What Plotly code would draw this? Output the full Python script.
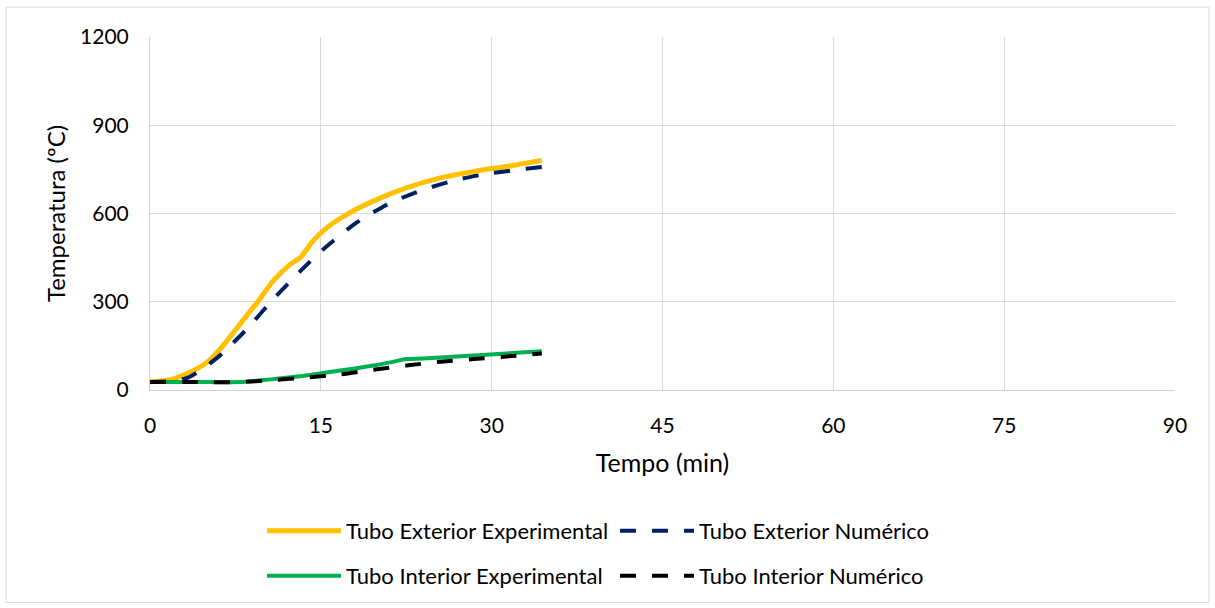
import plotly.graph_objects as go

# Data
t_ext_exp = [0, 2.0, 3.5, 5.0, 6.4, 7.9, 9.4, 10.8, 12.3, 13.2, 14.3, 15.5, 17.3, 19.6, 22.5, 25.5, 28.4, 31.3, 34.4]
T_ext_exp = [27, 37, 60, 94, 150, 224, 297, 370, 427, 450, 506, 551, 597, 642, 687, 721, 743, 760, 780]

t_ext_num = [0, 2.0, 3.2, 4.4, 6.1, 8.5, 10.8, 13.2, 15.2, 18.1, 21.1, 24.0, 27.2, 30.1, 34.4]
T_ext_num = [27, 30, 40, 66, 116, 207, 308, 404, 478, 568, 636, 681, 717, 738, 758]

t_int_exp = [0, 4.0, 7.9, 10.8, 13.7, 16.7, 19.6, 21.1, 22.5, 24.0, 26.9, 29.9, 34.4]
T_int_exp = [27, 27, 27, 37, 49, 66, 83, 94, 105, 107, 114, 121, 132]

t_int_num = [0, 4.0, 7.9, 10.8, 13.7, 16.7, 19.6, 22.5, 25.5, 28.4, 31.3, 34.4]
T_int_num = [27, 27, 27, 34, 42, 53, 69, 83, 96, 105, 114, 124]

x_ticks = [0, 15, 30, 45, 60, 75, 90]
y_ticks = [0, 300, 600, 900, 1200]

FONT = "Lato"

fig = go.Figure()
fig.add_trace(go.Scatter(x=t_ext_exp, y=T_ext_exp, mode="lines", name="Tubo Exterior Experimental",
                         line=dict(color="#FFC000", width=5, shape="spline", smoothing=0.6), legend="legend"))
fig.add_trace(go.Scatter(x=t_ext_num, y=T_ext_num, mode="lines", name="Tubo Exterior Numérico",
                         line=dict(color="#002060", width=4, dash="16px,16px", shape="spline", smoothing=0.6), legend="legend"))
fig.add_trace(go.Scatter(x=t_int_exp, y=T_int_exp, mode="lines", name="Tubo Interior Experimental",
                         line=dict(color="#00B050", width=4, shape="spline", smoothing=0.6), legend="legend2"))
fig.add_trace(go.Scatter(x=t_int_num, y=T_int_num, mode="lines", name="Tubo Interior Numérico",
                         line=dict(color="#000000", width=4, dash="16px,16px", shape="spline", smoothing=0.6), legend="legend2"))

W, H = 1215, 608
L, R, T, B = 150, 40, 37, 217
pw, ph = W - L - R, H - T - B

def px2paper_x(px):
    return (px - L) / pw

def py2paper_y(py):
    return (H - B - py) / ph

legend_common = dict(orientation="h", xanchor="left", yanchor="middle",
                     font=dict(family=FONT, size=22, color="#000000"),
                     entrywidth=264, entrywidthmode="pixels", bgcolor="rgba(0,0,0,0)",
                     itemwidth=74, tracegroupgap=0)

fig.update_layout(
    width=W, height=H,
    margin=dict(l=L, r=R, t=T, b=B),
    paper_bgcolor="white", plot_bgcolor="white",
    font=dict(family=FONT, size=21, color="#000000"),
    showlegend=True,
    legend=dict(x=px2paper_x(262), y=py2paper_y(531), **legend_common),
    legend2=dict(x=px2paper_x(262), y=py2paper_y(576), **legend_common),
    xaxis=dict(range=[0, 90], tickvals=x_ticks, ticktext=[str(v) for v in x_ticks],
               showgrid=True, gridcolor="#D9D9D9", gridwidth=1,
               showline=True, linecolor="#D0D0D0", linewidth=1, zeroline=False,
               ticks="", ticklabelstandoff=17,
               tickfont=dict(family=FONT, size=21, color="#000000"),
               title=dict(text="Tempo (min)", font=dict(family=FONT, size=25, color="#000000"), standoff=18)),
    yaxis=dict(range=[0, 1200], tickvals=y_ticks, ticktext=[str(v) for v in y_ticks],
               showgrid=True, gridcolor="#D9D9D9", gridwidth=1,
               showline=True, linecolor="#D0D0D0", linewidth=1, zeroline=False,
               ticks="", ticklabelstandoff=16,
               tickfont=dict(family=FONT, size=21, color="#000000"),
               title=dict(text="Temperatura (ºC)", font=dict(family=FONT, size=24, color="#000000"), standoff=7)),
    shapes=[dict(type="rect", xref="paper", yref="paper",
                 x0=px2paper_x(6), x1=px2paper_x(1209), y0=py2paper_y(604), y1=py2paper_y(7),
                 line=dict(color="#D9D9D9", width=1), fillcolor="rgba(0,0,0,0)", layer="below")],
)

fig.write_html("out.html")
